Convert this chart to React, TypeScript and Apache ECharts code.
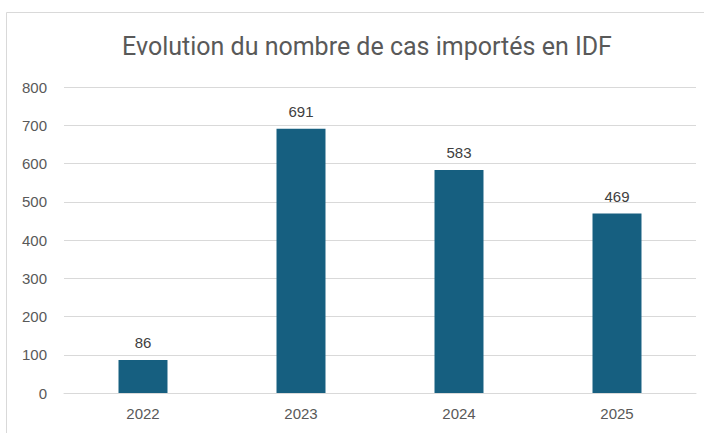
import React, { useEffect, useRef } from "react";
import * as echarts from "echarts";

const categories = ["2022", "2023", "2024", "2025"];
const values = [86, 691, 583, 469];
const title = "Evolution du nombre de cas importés en IDF";

export default function App() {
  const ref = useRef<HTMLDivElement>(null);
  useEffect(() => {
    const chart = echarts.init(ref.current!, undefined, { renderer: "svg" });
    chart.setOption({
      animation: false,
      backgroundColor: "#ffffff",
      title: {
        text: title,
        left: 362,
        textAlign: "center",
        top: 29,
        textStyle: {
          fontFamily: "Roboto, sans-serif",
          fontSize: 25,
          fontWeight: "normal",
          color: "#595959",
        },
      },
      graphic: [
        {
          type: "rect",
          shape: { x: 6.5, y: 12.5, width: 720, height: 440 },
          style: { fill: "none", stroke: "#d9d9d9", lineWidth: 1 },
          silent: true,
        },
      ],
      grid: { left: 64, right: 8, top: 87, bottom: 40, containLabel: false },
      xAxis: {
        type: "category",
        data: categories,
        axisLine: { show: true, lineStyle: { color: "#d9d9d9" } },
        axisTick: { show: false },
        axisLabel: {
          color: "#595959",
          fontSize: 15,
          fontFamily: "Liberation Sans, Arial, sans-serif",
          margin: 13,
        },
      },
      yAxis: {
        type: "value",
        min: 0,
        max: 800,
        interval: 100,
        axisLine: { show: false },
        axisTick: { show: false },
        splitLine: { lineStyle: { color: "#d9d9d9", width: 1 } },
        axisLabel: {
          color: "#595959",
          fontSize: 15,
          fontFamily: "Liberation Sans, Arial, sans-serif",
          margin: 17,
        },
      },
      series: [
        {
          type: "bar",
          data: values,
          barWidth: "31%",
          itemStyle: { color: "#165f80" },
          label: {
            show: true,
            position: "top",
            distance: 10,
            color: "#404040",
            fontSize: 15,
            fontFamily: "Liberation Sans, Arial, sans-serif",
          },
        },
      ],
    });
    return () => chart.dispose();
  }, []);
  return (
    <div style={{ position: "absolute", left: 0, top: 0 }}>
      <div ref={ref} style={{ width: 704, height: 433 }} />
    </div>
  );
}
